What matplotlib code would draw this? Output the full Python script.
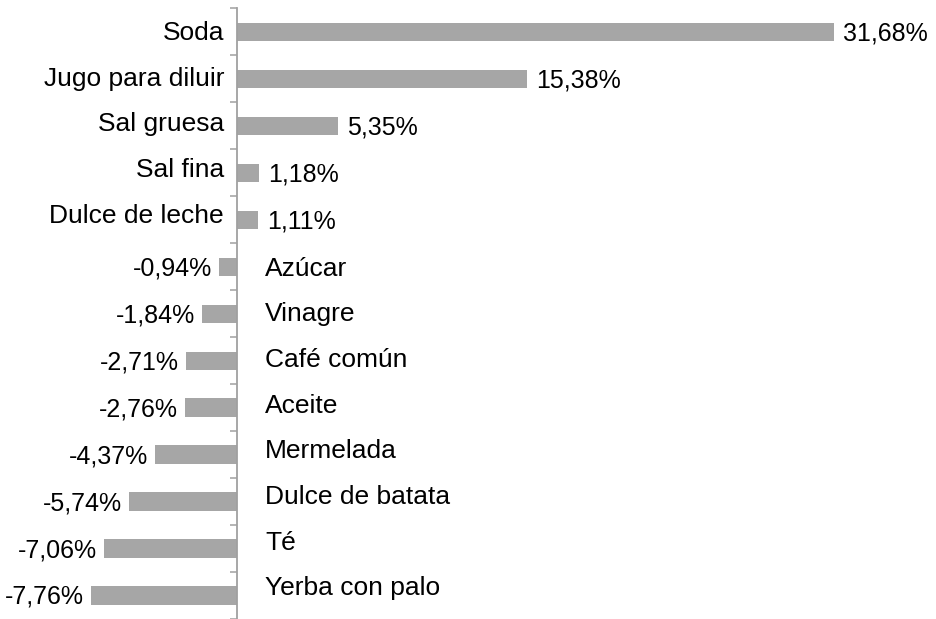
import matplotlib
matplotlib.use("Agg")
import matplotlib.pyplot as plt
import matplotlib.transforms as mtransforms

plt.rcParams['font.family'] = ['Liberation Sans', 'DejaVu Sans']

categories = ["Soda", "Jugo para diluir", "Sal gruesa", "Sal fina", "Dulce de leche",
              "Azúcar", "Vinagre", "Café común", "Aceite", "Mermelada",
              "Dulce de batata", "Té", "Yerba con palo"]
values = [31.68, 15.38, 5.35, 1.18, 1.11,
          -0.94, -1.84, -2.71, -2.76, -4.37,
          -5.74, -7.06, -7.76]

W, H = 937, 619
fig = plt.figure(figsize=(W / 100, H / 100), dpi=100)
# axes placed in pixel terms
x0, x1 = 76.8, 877.9
y_top = 8.4
ax = fig.add_axes([x0 / W, 0, (x1 - x0) / W, 1 - y_top / H])

bar_color = "#A6A6A6"
axis_color = "#A0A0A0"
pos = list(range(len(categories)))
ax.barh(pos, values, height=0.39, color=bar_color, zorder=2)

ax.set_xlim(-8.5, 34)
ax.set_ylim(12.436, -0.5)

for s in ["top", "right", "bottom"]:
    ax.spines[s].set_visible(False)
ax.spines["left"].set_position(("data", 0))
ax.spines["left"].set_color(axis_color)
ax.spines["left"].set_linewidth(1.3)
ax.set_xticks([])
ax.set_yticks([i - 0.5 for i in range(len(categories) + 1)])
ax.set_yticklabels([])
ax.tick_params(axis="y", direction="out", length=5, width=1.1, color=axis_color)

for i, (c, v) in enumerate(zip(categories, values)):
    label = f"{v:.2f}%".replace(".", ",")
    if v >= 0:
        off = mtransforms.offset_copy(ax.transData, fig=fig, x=9, y=0, units="dots")
        ax.text(v, i + 0.18, label, transform=off,
                ha="left", va="baseline", fontsize=18, color="black")
        # category label left of axis
        offc = mtransforms.offset_copy(ax.transData, fig=fig, x=-13, y=0, units="dots")
        ax.text(0, 0.169 + 0.975 * i, c, transform=offc, ha="right", va="baseline",
                fontsize=19, color="black")
    else:
        off = mtransforms.offset_copy(ax.transData, fig=fig, x=-7, y=0, units="dots")
        ax.text(v, i + 0.18, label, transform=off,
                ha="right", va="baseline", fontsize=18, color="black")
        offc = mtransforms.offset_copy(ax.transData, fig=fig, x=28, y=0, units="dots")
        ax.text(0, 0.332 + 0.972 * i, c, transform=offc, ha="left", va="baseline",
                fontsize=19, color="black")

fig.savefig("out.png", dpi=100)
